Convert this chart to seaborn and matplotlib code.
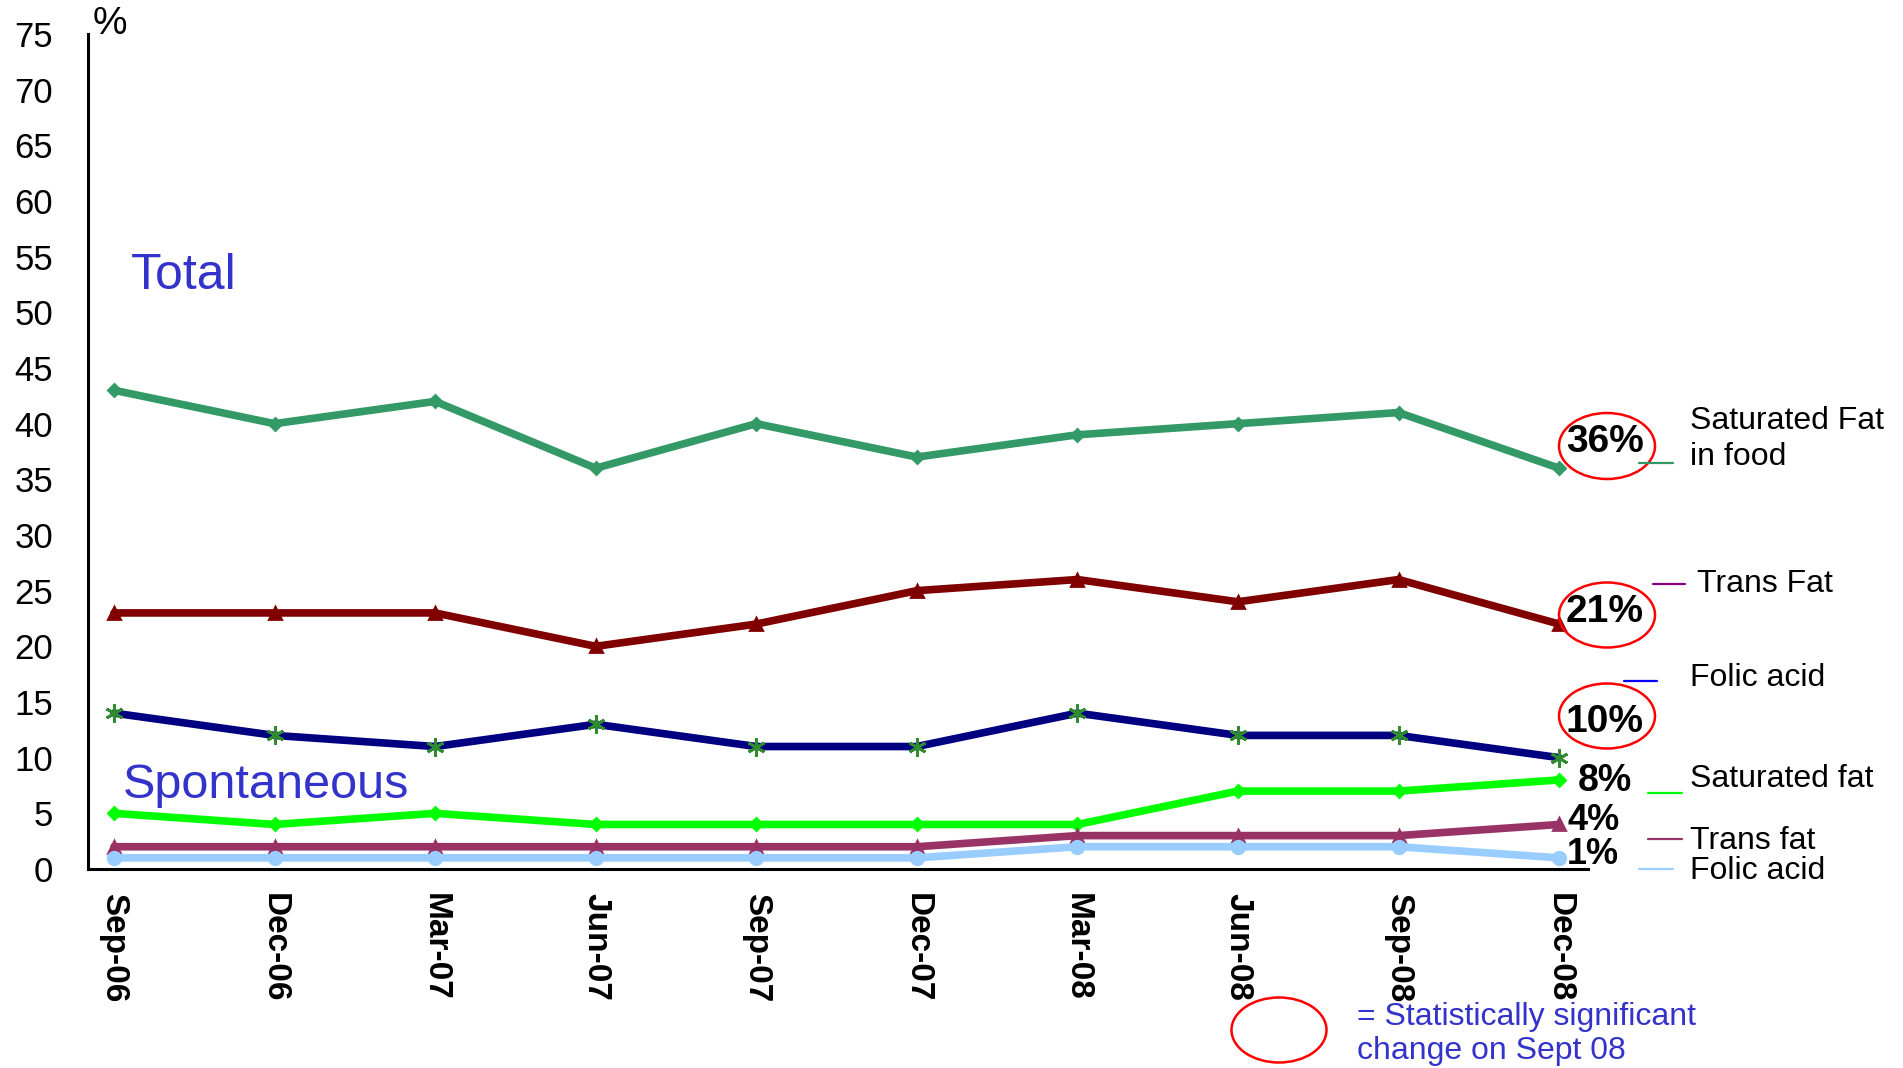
import numpy as np
import pandas as pd
import matplotlib
matplotlib.use('Agg')
import matplotlib.pyplot as plt
import seaborn as sns
from matplotlib.patches import Ellipse
from matplotlib.lines import Line2D

# quarters on the x axis
quarters = ['Sep-06', 'Dec-06', 'Mar-07', 'Jun-07', 'Sep-07',
            'Dec-07', 'Mar-08', 'Jun-08', 'Sep-08', 'Dec-08']

# Total awareness
total_sat_fat = [43, 40, 42, 36, 40, 37, 39, 40, 41, 36]
total_trans_fat = [23, 23, 23, 20, 22, 25, 26, 24, 26, 22]
total_folic = [14, 12, 11, 13, 11, 11, 14, 12, 12, 10]

# Spontaneous awareness
spont_sat_fat = [5, 4, 5, 4, 4, 4, 4, 7, 7, 8]
spont_trans_fat = [2, 2, 2, 2, 2, 2, 3, 3, 3, 4]
spont_folic = [1, 1, 1, 1, 1, 1, 2, 2, 2, 1]

y_ticks = list(range(0, 80, 5))

W, H = 1903, 1068
sns.set_style('white')
plt.rcParams['font.family'] = ['Liberation Sans', 'DejaVu Sans']
plt.rcParams['text.color'] = 'black'
plt.rcParams['xtick.color'] = 'black'
plt.rcParams['ytick.color'] = 'black'

fig = plt.figure(figsize=(W / 100, H / 100), dpi=100)
ax = fig.add_axes([88 / W, 1 - 869 / H, (1588 - 88) / W, (869 - 34) / H])

# series: values, line colour, marker, marker colour, marker size
series = [
    ('Total saturated fat', total_sat_fat, '#339966', 'D', '#339966', 6),
    ('Total trans fat', total_trans_fat, '#800000', '^', '#800000', 8),
    ('Total folic acid', total_folic, '#000080', (6, 2, 0), '#2E8B2E', 13),
    ('Spont saturated fat', spont_sat_fat, '#00FF00', 'D', '#00FF00', 6),
    ('Spont trans fat', spont_trans_fat, '#993366', '^', '#993366', 8),
    ('Spont folic acid', spont_folic, '#99CCFF', 'o', '#99CCFF', 9),
]

x = np.arange(len(quarters))
for name, vals, col, mk, mcol, ms in series:
    df = pd.DataFrame({'x': x, 'y': vals})
    sns.lineplot(data=df, x='x', y='y', ax=ax, color=col, linewidth=5.5,
                 marker=mk, markersize=ms, markerfacecolor=mcol,
                 markeredgecolor=mcol, markeredgewidth=2, legend=False)

ax.set_xlim(-0.162, 9.18)
ax.set_ylim(0, 75)
ax.set_yticks(y_ticks)
ax.set_yticklabels([str(v) for v in y_ticks])
ax.set_xticks(x)
ax.set_xticklabels(quarters, rotation=270, fontweight='bold', fontsize=24)
ax.set_xticks(np.arange(10) - 0.162, minor=True)
ax.tick_params(axis='x', which='major', length=0, pad=17)
ax.tick_params(axis='x', which='minor', length=11, width=2, direction='out', color='black')
ax.tick_params(axis='y', length=12, width=2, direction='out', color='black', labelsize=25, pad=13)
ax.set_xlabel('')
ax.set_ylabel('')
for s in ['top', 'right']:
    ax.spines[s].set_visible(False)
for s in ['left', 'bottom']:
    ax.spines[s].set_color('black')
    ax.spines[s].set_linewidth(2.2)


def ftext(px, py, s, **kw):
    fig.text(px / W, 1 - py / H, s, **kw)


def fellipse(cx, cy, w, h):
    fig.add_artist(Ellipse((cx / W, 1 - cy / H), w / W, h / H, transform=fig.transFigure,
                           fill=False, edgecolor='#FF0000', linewidth=1.8))


def fseg(x0, x1, y, col):
    fig.add_artist(Line2D([x0 / W, x1 / W], [1 - y / H, 1 - y / H],
                          transform=fig.transFigure, color=col, linewidth=1.6))


blue = '#3333CC'
ftext(93, 24, '%', fontsize=28, va='center', ha='left')
ftext(131, 276, 'Total', fontsize=36, color=blue, va='center', ha='left')
ftext(123, 786, 'Spontaneous', fontsize=35, color=blue, va='center', ha='left')

# end values
ftext(1605, 442, '36%', fontsize=28, fontweight='bold', va='center', ha='center')
ftext(1605, 612, '21%', fontsize=28, fontweight='bold', va='center', ha='center')
ftext(1605, 722, '10%', fontsize=28, fontweight='bold', va='center', ha='center')
ftext(1578, 781, '8%', fontsize=27, fontweight='bold', va='center', ha='left')
ftext(1567, 821, '4%', fontsize=26, fontweight='bold', va='center', ha='left')
ftext(1567, 854, '1%', fontsize=26, fontweight='bold', va='center', ha='left')
fellipse(1607, 446, 96, 66)
fellipse(1607, 615, 96, 65)
fellipse(1607, 716, 96, 65)

# series labels
ftext(1690, 439, 'Saturated Fat\nin food', fontsize=23, va='center', ha='left',
      linespacing=1.22)
ftext(1697, 584, 'Trans Fat', fontsize=23, va='center', ha='left')
ftext(1690, 678, 'Folic acid', fontsize=23, va='center', ha='left')
ftext(1690, 779, 'Saturated fat', fontsize=23, va='center', ha='left')
ftext(1690, 841, 'Trans fat', fontsize=23, va='center', ha='left')
ftext(1690, 871, 'Folic acid', fontsize=23, va='center', ha='left')
fseg(1639, 1673, 463, '#339966')
fseg(1653, 1685, 584, '#800080')
fseg(1624, 1657, 681, '#0000FF')
fseg(1648, 1682, 793, '#00FF00')
fseg(1648, 1682, 839, '#993366')
fseg(1639, 1673, 869, '#99CCFF')

# key for the red ellipse
fellipse(1279, 1030, 95, 65)
ftext(1357, 1034, '= Statistically significant\nchange on Sept 08', fontsize=23,
      color=blue, va='center', ha='left', linespacing=1.2)

fig.savefig('out.png', dpi=100)
